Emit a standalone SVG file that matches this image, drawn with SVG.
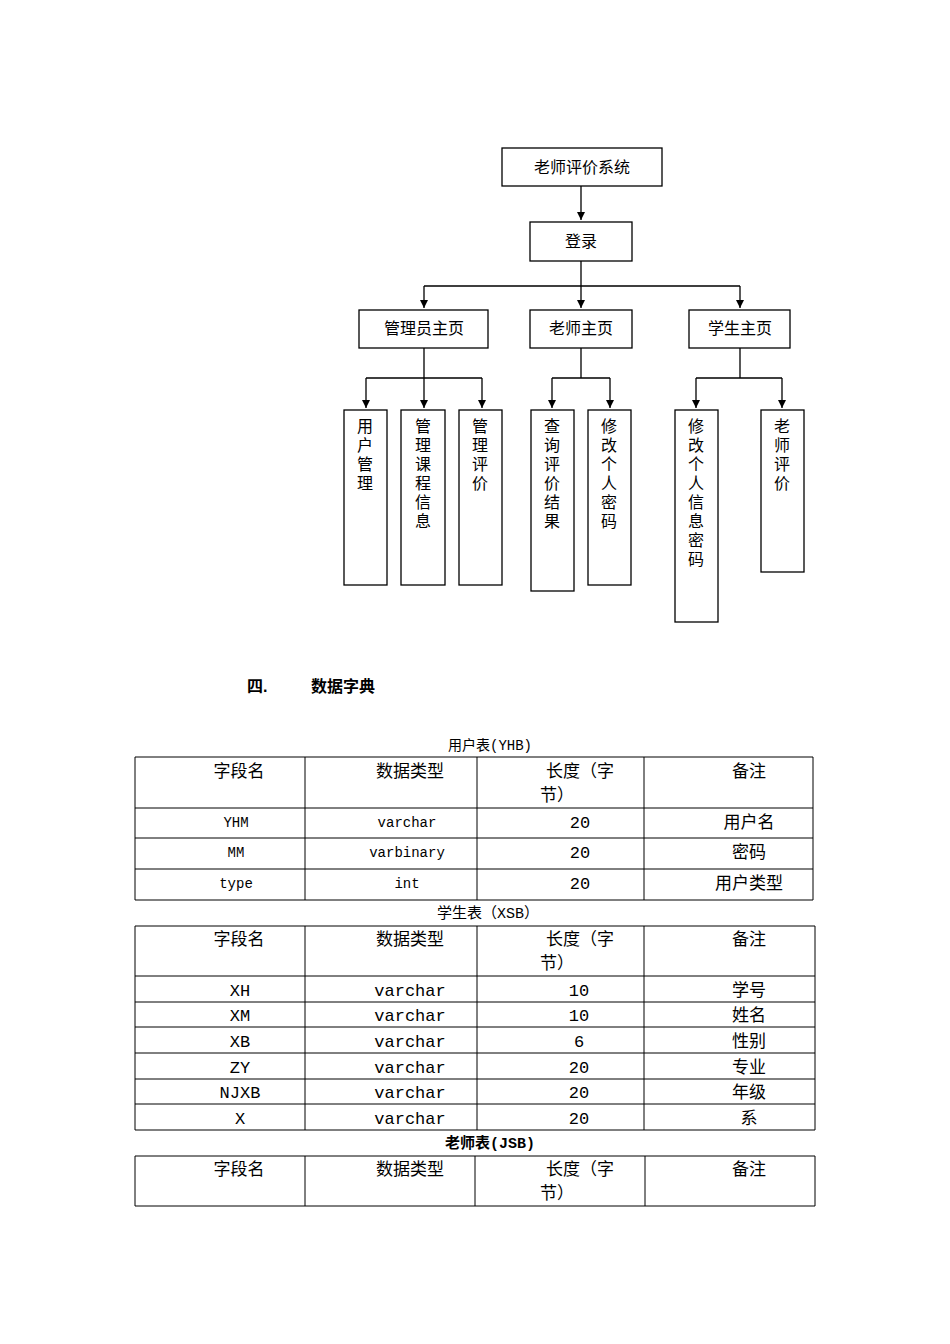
<svg xmlns="http://www.w3.org/2000/svg" width="950" height="1344" viewBox="0 0 950 1344">
<defs><marker id="ah" viewBox="0 0 10 10" refX="10" refY="5" markerWidth="8" markerHeight="8" markerUnits="userSpaceOnUse" orient="auto"><path d="M0,0L10,5L0,10z" fill="#000"/></marker>
<style>
.b{fill:#fff;stroke:#000;stroke-width:1.3}
.t{font-family:"Liberation Sans","Noto Sans CJK SC",sans-serif;font-size:16px;fill:#000}
.c{text-anchor:middle}
.l{stroke:#000;stroke-width:1.3;fill:none}
.tb{stroke:#000;stroke-width:1;fill:none}
.m{font-family:"Liberation Mono","Noto Sans CJK SC",monospace;fill:#000;text-anchor:middle}
</style></defs>
<rect width="950" height="1344" fill="#fff"/>
<g id="connectors">
<path class="l" d="M581,186V220" marker-end="url(#ah)"/>
<path class="l" d="M581,261V286M424,286H740"/>
<path class="l" d="M424,286V308" marker-end="url(#ah)"/>
<path class="l" d="M581,286V308" marker-end="url(#ah)"/>
<path class="l" d="M740,286V308" marker-end="url(#ah)"/>
<path class="l" d="M424,348V378M366,378H482"/>
<path class="l" d="M366,378V408" marker-end="url(#ah)"/>
<path class="l" d="M424,378V408" marker-end="url(#ah)"/>
<path class="l" d="M482,378V408" marker-end="url(#ah)"/>
<path class="l" d="M581,348V378M552,378H610"/>
<path class="l" d="M552,378V408" marker-end="url(#ah)"/>
<path class="l" d="M610,378V408" marker-end="url(#ah)"/>
<path class="l" d="M740,348V378M696,378H782"/>
<path class="l" d="M696,378V408" marker-end="url(#ah)"/>
<path class="l" d="M782,378V408" marker-end="url(#ah)"/>
</g>
<g id="n-root"><rect class="b" x="502" y="148" width="160" height="38"/><text class="t c" x="582" y="173" font-size="18">老师评价系统</text></g>
<g id="n-login"><rect class="b" x="530" y="222" width="102" height="39"/><text class="t c" x="581" y="247">登录</text></g>
<g id="n-admin"><rect class="b" x="359" y="310" width="129" height="38"/><text class="t c" x="424" y="334">管理员主页</text></g>
<g id="n-teacher"><rect class="b" x="530" y="310" width="102" height="38"/><text class="t c" x="581" y="334">老师主页</text></g>
<g id="n-student"><rect class="b" x="689" y="310" width="101" height="38"/><text class="t c" x="740" y="334">学生主页</text></g>
<g id="n-a1"><rect class="b" x="344" y="410" width="43" height="175"/><text class="t c" x="365" y="432"><tspan x="365">用</tspan><tspan x="365" dy="19">户</tspan><tspan x="365" dy="19">管</tspan><tspan x="365" dy="19">理</tspan></text></g>
<g id="n-a2"><rect class="b" x="401" y="410" width="44" height="175"/><text class="t c" x="423" y="432"><tspan x="423">管</tspan><tspan x="423" dy="19">理</tspan><tspan x="423" dy="19">课</tspan><tspan x="423" dy="19">程</tspan><tspan x="423" dy="19">信</tspan><tspan x="423" dy="19">息</tspan></text></g>
<g id="n-a3"><rect class="b" x="459" y="410" width="43" height="175"/><text class="t c" x="480" y="432"><tspan x="480">管</tspan><tspan x="480" dy="19">理</tspan><tspan x="480" dy="19">评</tspan><tspan x="480" dy="19">价</tspan></text></g>
<g id="n-t1"><rect class="b" x="531" y="410" width="43" height="181"/><text class="t c" x="552" y="432"><tspan x="552">查</tspan><tspan x="552" dy="19">询</tspan><tspan x="552" dy="19">评</tspan><tspan x="552" dy="19">价</tspan><tspan x="552" dy="19">结</tspan><tspan x="552" dy="19">果</tspan></text></g>
<g id="n-t2"><rect class="b" x="588" y="410" width="43" height="175"/><text class="t c" x="609" y="432"><tspan x="609">修</tspan><tspan x="609" dy="19">改</tspan><tspan x="609" dy="19">个</tspan><tspan x="609" dy="19">人</tspan><tspan x="609" dy="19">密</tspan><tspan x="609" dy="19">码</tspan></text></g>
<g id="n-s1"><rect class="b" x="675" y="410" width="43" height="212"/><text class="t c" x="696" y="432"><tspan x="696">修</tspan><tspan x="696" dy="19">改</tspan><tspan x="696" dy="19">个</tspan><tspan x="696" dy="19">人</tspan><tspan x="696" dy="19">信</tspan><tspan x="696" dy="19">息</tspan><tspan x="696" dy="19">密</tspan><tspan x="696" dy="19">码</tspan></text></g>
<g id="n-s2"><rect class="b" x="761" y="410" width="43" height="162"/><text class="t c" x="782" y="432"><tspan x="782">老</tspan><tspan x="782" dy="19">师</tspan><tspan x="782" dy="19">评</tspan><tspan x="782" dy="19">价</tspan></text></g>
<text class="t" x="247" y="692" font-size="20" font-weight="bold">四.</text>
<text class="t" x="311" y="692" font-size="20" font-weight="bold">数据字典</text>
<g id="table1">
<text class="m" x="490" y="750" font-size="14">用户表(YHB)</text>
<path class="tb" d="M135,757H813V900H135ZM135,808H813M135,838H813M135,869H813M305,757V900M477,757V900M644,757V900"/>
<g font-size="17"><text class="m" x="239" y="777">字段名</text><text class="m" x="410" y="777">数据类型</text><text class="m" x="580" y="777">长度（字</text><text class="m" x="557" y="801">节）</text><text class="m" x="749" y="777">备注</text></g>
<g font-size="14"><text class="m" x="236" y="827">YHM</text><text class="m" x="407" y="827">varchar</text><text class="m" x="236" y="857">MM</text><text class="m" x="407" y="857">varbinary</text><text class="m" x="236" y="888">type</text><text class="m" x="407" y="888">int</text></g>
<g font-size="17"><text class="m" x="580" y="828">20</text><text class="m" x="749" y="828">用户名</text><text class="m" x="580" y="858">20</text><text class="m" x="749" y="858">密码</text><text class="m" x="580" y="889">20</text><text class="m" x="749" y="889">用户类型</text></g>
</g>
<g id="table2">
<text class="m" x="488" y="918" font-size="15">学生表（XSB）</text>
<path class="tb" d="M135,926H815V1130H135ZM135,976H815M135,1002H815M135,1027H815M135,1053H815M135,1079H815M135,1104H815M305,926V1130M477,926V1130M644,926V1130"/>
<g font-size="17"><text class="m" x="239" y="945">字段名</text><text class="m" x="410" y="945">数据类型</text><text class="m" x="580" y="945">长度（字</text><text class="m" x="557" y="969">节）</text><text class="m" x="749" y="945">备注</text>
<text class="m" x="240" y="996">XH</text><text class="m" x="410" y="996">varchar</text><text class="m" x="579" y="996">10</text><text class="m" x="749" y="996">学号</text>
<text class="m" x="240" y="1021">XM</text><text class="m" x="410" y="1021">varchar</text><text class="m" x="579" y="1021">10</text><text class="m" x="749" y="1021">姓名</text>
<text class="m" x="240" y="1047">XB</text><text class="m" x="410" y="1047">varchar</text><text class="m" x="579" y="1047">6</text><text class="m" x="749" y="1047">性别</text>
<text class="m" x="240" y="1073">ZY</text><text class="m" x="410" y="1073">varchar</text><text class="m" x="579" y="1073">20</text><text class="m" x="749" y="1073">专业</text>
<text class="m" x="240" y="1098">NJXB</text><text class="m" x="410" y="1098">varchar</text><text class="m" x="579" y="1098">20</text><text class="m" x="749" y="1098">年级</text>
<text class="m" x="240" y="1124">X</text><text class="m" x="410" y="1124">varchar</text><text class="m" x="579" y="1124">20</text><text class="m" x="749" y="1124">系</text></g>
</g>
<g id="table3">
<text class="m" x="490" y="1148" font-size="15" font-weight="bold">老师表(JSB)</text>
<path class="tb" d="M135,1156H815V1206H135ZM305,1156V1206M475,1156V1206M645,1156V1206"/>
<g font-size="17"><text class="m" x="239" y="1175">字段名</text><text class="m" x="410" y="1175">数据类型</text><text class="m" x="580" y="1175">长度（字</text><text class="m" x="557" y="1199">节）</text><text class="m" x="749" y="1175">备注</text></g>
</g>
</svg>
